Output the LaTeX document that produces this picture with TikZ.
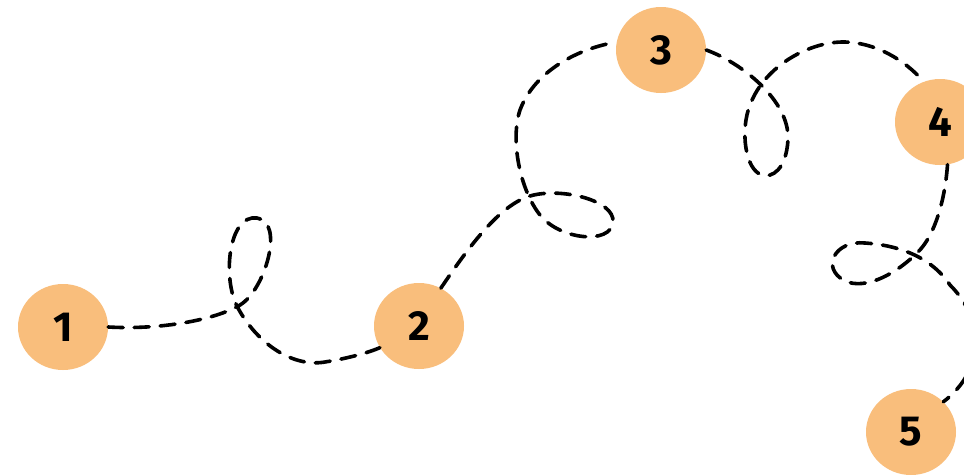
\documentclass[tikz,border=0pt]{standalone}
\usepackage{fontspec}
\setmainfont{Fira Sans}
\usetikzlibrary{shapes.geometric}
\definecolor{blob}{HTML}{F9BE7C}
\tikzset{
  stop/.style={ellipse, fill=blob, minimum width=90pt, minimum height=86pt, inner sep=0pt,
    font=\fontsize{42}{42}\selectfont\bfseries, text=black},
  trail/.style={draw=black, line width=3.6pt, dash pattern=on 15pt off 11pt, line cap=round}
}
\begin{document}
\begin{tikzpicture}[x=1pt,y=-1pt]
\useasboundingbox (0,0) rectangle (964,474);
\fill[white] (0,0) rectangle (964,474);
\clip (0,0) rectangle (964,474);
\node[stop] (n1) at (63,327) {1};
\node[stop] (n2) at (419,326) {2};
\node[stop] (n3) at (661,50) {3};
\node[stop] (n4) at (940,122) {4};
\node[stop] (n5) at (911,432) {5};
% 1 -> 2
\draw[trail] (n1.east) .. controls (160,330) and (215,320) .. (240,305)
  .. controls (265,290) and (285,222) .. (257,218)
  .. controls (228,214) and (222,280) .. (238,308)
  .. controls (255,340) and (290,368) .. (325,362)
  .. controls (350,358) and (370,352) .. (n2.209);
% 2 -> 3
\draw[trail] (n2.60) .. controls (470,245) and (500,205) .. (530,196)
  .. controls (560,187) and (615,200) .. (613,222)
  .. controls (611,245) and (560,240) .. (540,215)
  .. controls (520,190) and (510,140) .. (520,110)
  .. controls (535,70) and (580,48) .. (n3.170);
% 3 -> 4
\draw[trail] (n3.east) .. controls (740,62) and (790,100) .. (788,140)
  .. controls (786,170) and (772,178) .. (762,175)
  .. controls (745,170) and (740,130) .. (750,105)
  .. controls (765,65) and (810,42) .. (843,42)
  .. controls (875,42) and (905,60) .. (n4.112);
% 4 -> 5
\draw[trail] (n4.-80) .. controls (945,200) and (935,235) .. (918,252)
  .. controls (895,275) and (865,290) .. (845,281)
  .. controls (820,268) and (835,240) .. (865,243)
  .. controls (895,245) and (930,255) .. (950,285)
  .. controls (985,320) and (985,370) .. (n5.43);
\end{tikzpicture}
\end{document}
